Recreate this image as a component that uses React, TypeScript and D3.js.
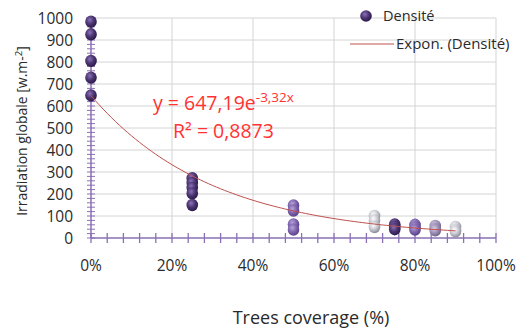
import { useEffect, useRef } from "react";
import * as d3 from "d3";

// coverage groups (fraction) and measured irradiation per group
const coverage = [0, 0.25, 0.5, 0.7, 0.75, 0.8, 0.85, 0.9];
const irradiation = [
  [983, 926, 805, 729, 648],
  [272, 250, 228, 203, 150],
  [148, 125, 62, 38],
  [100, 80, 50],
  [62, 50, 40],
  [60, 48, 38],
  [55, 42, 35],
  [50, 38, 30],
];
const yTicks = [0, 100, 200, 300, 400, 500, 600, 700, 800, 900, 1000];
const xTicks = [0, 0.2, 0.4, 0.6, 0.8, 1];
const trendA = 647.19;
const trendB = -3.32;

// sphere shading per group
const shade = ["dark", "dark", "mid", "white", "dark", "mid", "light", "white"];

export default function App() {
  const ref = useRef<SVGSVGElement>(null);

  useEffect(() => {
    const width = 524;
    const height = 328;
    const margin = { top: 18, right: 28, bottom: 90, left: 91 };
    const svg = d3.select(ref.current);
    svg.selectAll("*").remove();

    const x = d3.scaleLinear().domain([0, 1]).range([margin.left, width - margin.right]);
    const y = d3.scaleLinear().domain([0, 1000]).range([height - margin.bottom, margin.top]);
    const font = "'Open Sans', sans-serif";
    const axisColor = "#8a70b5";
    const textColor = "#2a2a2a";

    // gradients
    const defs = svg.append("defs");
    const grads: Record<string, [string, string, string]> = {
      dark: ["#8a72b8", "#4a3370", "#2c1b4a"],
      mid: ["#b6a4d8", "#7e64ae", "#5a4088"],
      light: ["#d8d0e6", "#9e92b8", "#6e6288"],
      white: ["#ffffff", "#c8c8d2", "#8c8c98"],
    };
    Object.entries(grads).forEach(([k, c]) => {
      const g = defs
        .append("radialGradient")
        .attr("id", "g-" + k)
        .attr("cx", "40%")
        .attr("cy", "35%")
        .attr("r", "65%");
      g.append("stop").attr("offset", "0%").attr("stop-color", c[0]);
      g.append("stop").attr("offset", "55%").attr("stop-color", c[1]);
      g.append("stop").attr("offset", "100%").attr("stop-color", c[2]);
    });

    // horizontal grid
    svg
      .append("g")
      .selectAll("line")
      .data(yTicks.slice(1))
      .join("line")
      .attr("x1", margin.left)
      .attr("x2", width - margin.right)
      .attr("y1", (d) => y(d))
      .attr("y2", (d) => y(d))
      .attr("stroke", "#d4d4d4")
      .attr("stroke-width", 1);

    // vertical grid
    svg
      .append("g")
      .selectAll("line")
      .data(xTicks.slice(1))
      .join("line")
      .attr("x1", (d) => x(d))
      .attr("x2", (d) => x(d))
      .attr("y1", y(1000))
      .attr("y2", y(0))
      .attr("stroke", "#d4d4d4")
      .attr("stroke-width", 1);

    // x axis with crossing ticks every 4%
    const xAxis = svg.append("g");
    xAxis
      .append("line")
      .attr("x1", x(0))
      .attr("x2", x(1))
      .attr("y1", y(0))
      .attr("y2", y(0))
      .attr("stroke", axisColor)
      .attr("stroke-width", 1.5);
    xAxis
      .selectAll("line.t")
      .data(d3.range(0, 26).map((i) => i * 0.04))
      .join("line")
      .attr("class", "t")
      .attr("x1", (d) => x(d))
      .attr("x2", (d) => x(d))
      .attr("y1", y(0) - 5)
      .attr("y2", y(0) + 5)
      .attr("stroke", axisColor)
      .attr("stroke-width", 1.3);
    xAxis
      .selectAll("text")
      .data(xTicks)
      .join("text")
      .attr("x", (d) => x(d))
      .attr("y", y(0) + 33)
      .attr("text-anchor", "middle")
      .attr("font-family", font)
      .attr("font-size", 15.5)
      .attr("fill", textColor)
      .text((d) => d3.format(".0%")(d));

    // y axis with crossing minor ticks
    const yAxis = svg.append("g");
    yAxis
      .append("line")
      .attr("x1", x(0))
      .attr("x2", x(0))
      .attr("y1", y(0))
      .attr("y2", y(1000))
      .attr("stroke", axisColor)
      .attr("stroke-width", 1.5);
    yAxis
      .selectAll("line.t")
      .data(d3.range(0, 51).map((i) => i * 20))
      .join("line")
      .attr("class", "t")
      .attr("x1", x(0) - 4)
      .attr("x2", x(0) + 4)
      .attr("y1", (d) => y(d))
      .attr("y2", (d) => y(d))
      .attr("stroke", axisColor)
      .attr("stroke-width", 1);
    yAxis
      .selectAll("text")
      .data(yTicks)
      .join("text")
      .attr("x", x(0) - 18)
      .attr("y", (d) => y(d) + 5.5)
      .attr("text-anchor", "end")
      .attr("font-family", font)
      .attr("font-size", 15.5)
      .attr("fill", textColor)
      .text((d) => d);

    // points
    const pts = coverage.flatMap((c, i) =>
      irradiation[i].map((v) => ({ c, v, s: shade[i] }))
    );
    svg
      .append("g")
      .selectAll("ellipse")
      .data(pts)
      .join("ellipse")
      .attr("cx", (d) => x(d.c))
      .attr("cy", (d) => y(d.v))
      .attr("rx", 5.8)
      .attr("ry", 6.2)
      .attr("fill", (d) => `url(#g-${d.s})`);

    // exponential trendline
    const trend = d3.range(0, 91).map((i) => i / 100);
    const line = d3
      .line<number>()
      .x((d) => x(d))
      .y((d) => y(trendA * Math.exp(trendB * d)));
    svg
      .append("path")
      .datum(trend)
      .attr("fill", "none")
      .attr("stroke", "#c0504d")
      .attr("stroke-width", 1)
      .attr("d", line);

    // equation
    const eq = svg
      .append("text")
      .attr("x", 153)
      .attr("y", 110)
      .attr("font-family", font)
      .attr("font-size", 19.5)
      .attr("fill", "#ff3333");
    eq.append("tspan").text("y = 647,19e");
    eq.append("tspan").attr("font-size", 13.5).attr("dy", -8).text("-3,32x");
    svg
      .append("text")
      .attr("x", 173)
      .attr("y", 138)
      .attr("font-family", font)
      .attr("font-size", 19.5)
      .attr("fill", "#ff3333")
      .text("R² = 0,8873");

    // legend
    svg
      .append("circle")
      .attr("cx", 366)
      .attr("cy", 16)
      .attr("r", 5.8)
      .attr("fill", "url(#g-dark)");
    svg
      .append("text")
      .attr("x", 383)
      .attr("y", 21)
      .attr("font-family", font)
      .attr("font-size", 14.5)
      .attr("fill", textColor)
      .text("Densité");
    svg
      .append("line")
      .attr("x1", 350)
      .attr("x2", 394)
      .attr("y1", 44)
      .attr("y2", 44)
      .attr("stroke", "#c0504d")
      .attr("stroke-width", 1);
    svg
      .append("text")
      .attr("x", 396)
      .attr("y", 49)
      .attr("font-family", font)
      .attr("font-size", 15)
      .attr("fill", textColor)
      .text("Expon. (Densité)");

    // axis titles
    svg
      .append("text")
      .attr("x", 311)
      .attr("y", 324)
      .attr("text-anchor", "middle")
      .attr("font-family", font)
      .attr("font-size", 18)
      .attr("fill", textColor)
      .text("Trees coverage  (%)");
    const yt = svg
      .append("text")
      .attr("transform", "translate(27,131) rotate(-90)")
      .attr("text-anchor", "middle")
      .attr("font-family", font)
      .attr("font-size", 14)
      .attr("fill", textColor);
    yt.append("tspan").text("Irradiation globale [w.m-");
    yt.append("tspan").attr("font-size", 9.5).attr("dy", -5).text("2");
    yt.append("tspan").attr("dy", 5).text("]");
  }, []);

  return (
    <div style={{ position: "fixed", left: 0, top: 0, background: "#fff" }}>
      <svg ref={ref} width={524} height={328} />
    </div>
  );
}
